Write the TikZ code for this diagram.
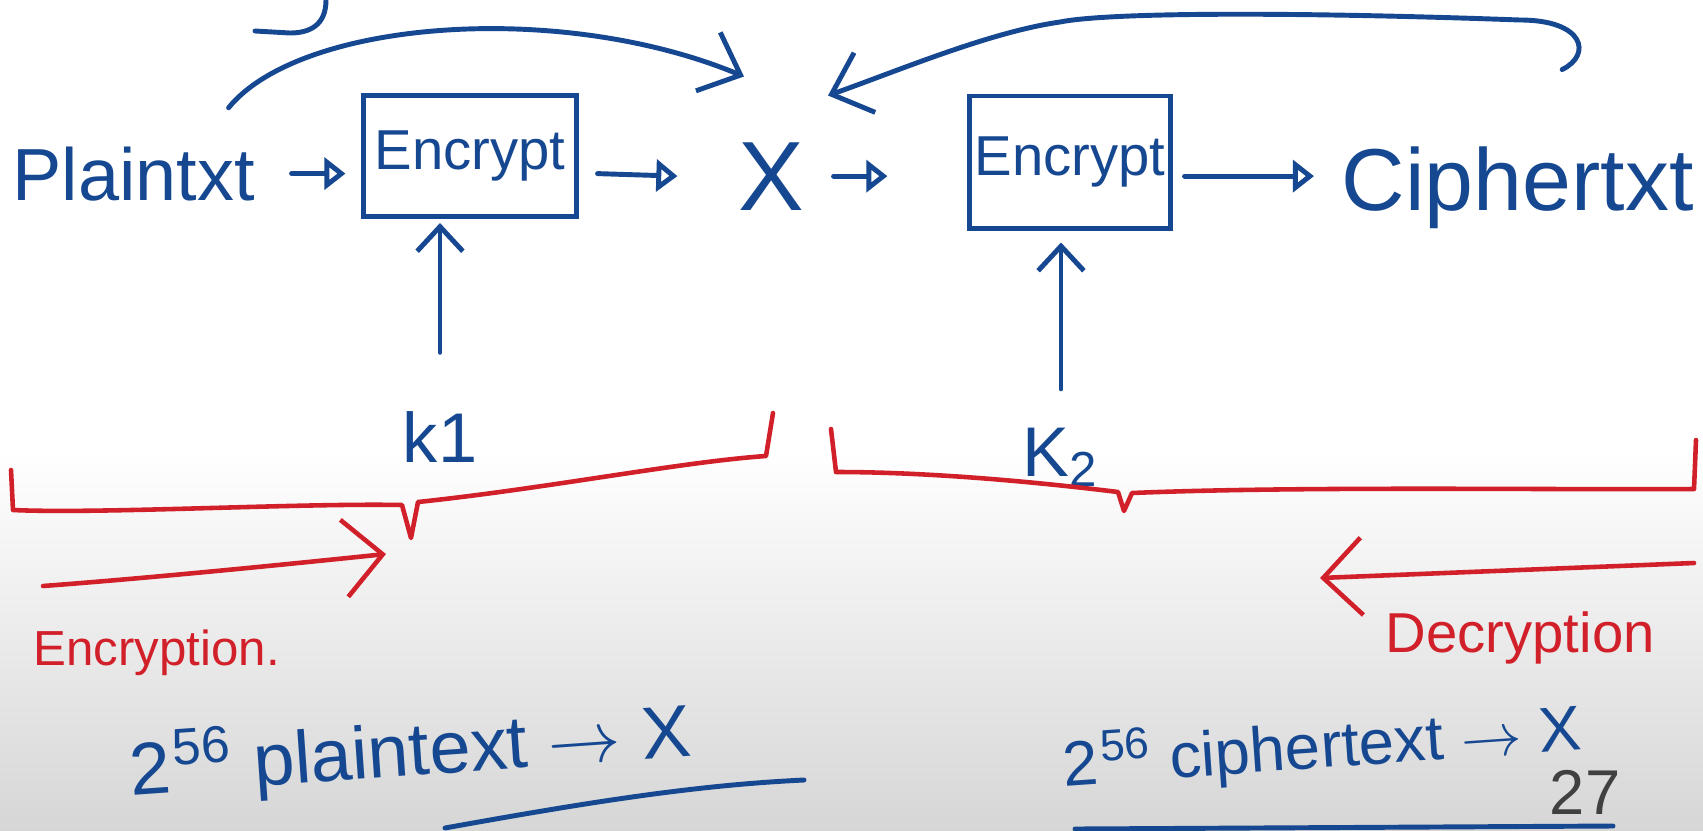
\documentclass[tikz,border=0pt]{standalone}
\usepackage{fontspec}
\setmainfont{Liberation Sans}
\usetikzlibrary{arrows.meta}
\definecolor{ink}{RGB}{22,72,145}
\definecolor{redink}{RGB}{210,32,42}
\begin{document}
\begin{tikzpicture}[x=0.01cm,y=-0.01cm,
  txt/.style={inner sep=0pt, text=ink},
  rtxt/.style={inner sep=0pt, text=redink},
  box/.style={draw=ink, line width=1.4pt, inner sep=0pt, text=ink, font=\fontsize{16}{18}\selectfont},
  ln/.style={draw=ink, line width=1.4pt, line cap=round, line join=round},
  flow/.style={ln, -{Triangle[open,length=6pt,width=9pt]}},
  vee/.style={ln, -{Straight Barb[length=10pt,width=18pt]}},
  keyar/.style={ln, -{Straight Barb[length=7pt,width=13pt]}},
  redline/.style={draw=redink, line width=1.3pt, line cap=round, line join=round},
  redar/.style={redline, -{Straight Barb[length=11pt,width=22pt]}}
]
\useasboundingbox (0,0) rectangle (1703,830);
\fill[white] (0,0) rectangle (1703,450);
\shade[top color=white, bottom color=black!16] (0,450) rectangle (1703,830);

% top-left fragment
\draw[ln] (326,0) .. controls (326,25) and (310,33) .. (290,33) -- (255,31);

% main row
\node[txt, anchor=base west, font=\fontsize{21}{24}\selectfont] (pl) at (12,200) {Plaintxt};
\node[box, minimum width=2.12cm, minimum height=1.21cm] (enc1) at (470,156) {Encrypt};
\node[txt, anchor=base, font=\fontsize{28}{30}\selectfont] (X) at (771,210) {X};
\node[box, minimum width=2.0cm, minimum height=1.32cm] (enc2) at (1070,162) {Encrypt};
\node[txt, anchor=base west, font=\fontsize{25}{30}\selectfont] (ct) at (1341,210) {Ciphertxt};
\node[txt, anchor=base, font=\fontsize{20}{24}\selectfont] (k1) at (440,462) {k1};
\node[txt, anchor=base, font=\fontsize{20}{24}\selectfont] (k2) at (1061,476) {K\textsubscript{2}};

\draw[flow] ([xshift=0.36cm]pl.east) -- ([xshift=-0.16cm]pl.east -| enc1.west);
\draw[flow] ([xshift=0.19cm]enc1.east |- pl.east) -- ([xshift=-0.6cm]X.west);
\draw[flow] ([xshift=0.29cm]X.east) -- ([xshift=-0.8cm]X.east -| enc2.west);
\draw[flow] ([xshift=0.12cm]enc2.east |- X.east) -- ([xshift=-0.27cm]ct.west |- X.east);

\draw[keyar] ([yshift=0.58cm]k1.north) -- ([yshift=-0.04cm]k1.north |- enc1.south);
\draw[keyar] ([yshift=0.38cm]k2.north) -- ([yshift=-0.12cm]k2.north |- enc2.south);

% curved arrows to X
\draw[vee] ([xshift=-0.27cm,yshift=0.38cm]pl.north east) .. controls (300,20) and (560,0) .. ([xshift=-0.27cm,yshift=0.65cm]X.north);
\draw[vee] ([xshift=2.21cm,yshift=0.76cm]ct.north west) .. controls (1592,55) and (1585,20) .. (1520,20)
  .. controls (1300,12) and (1110,12) .. (1060,22)
  .. controls (990,32) and (900,70) .. ([xshift=0.57cm,yshift=0.46cm]X.north);

% red braces
\draw[redline] (11,470) -- (13,510) .. controls (100,514) and (300,503) .. (402,505) -- (411,538) -- (418,502)
  .. controls (550,488) and (680,462) .. (766,456) -- (773,413);
\draw[redline] (831,429) -- (836,472) .. controls (920,472) and (1020,480) .. (1118,492) -- (1124,511) -- (1132,493)
  .. controls (1300,486) and (1550,490) .. (1694,489) -- (1696,440);

% red arrows and labels
\draw[redar] (43,586) .. controls (150,578) and (280,565) .. (386,554);
\draw[redar] (1694,563) -- (1320,578);
\node[rtxt, anchor=base west, font=\fontsize{14}{16}\selectfont] (encl) at (33,665) {Encryption.};
\node[rtxt, anchor=base west, font=\fontsize{16}{18}\selectfont] (decl) at (1385,652) {Decryption};

% bottom notes
\node[txt, rotate=4, font=\fontsize{21}{25}\selectfont] (bl) at (410,752) {2\kern1pt\textsuperscript{56} plaintext $\to$ X};
\node[txt, rotate=4, font=\fontsize{18}{22}\selectfont] (br) at (1322,748) {2\kern1pt\textsuperscript{56} ciphertext $\to$ X};
\draw[ln] (445,828) .. controls (600,800) and (700,785) .. (804,780);
\draw[ln] (1075,829) -- (1613,826);

\node[inner sep=0pt, anchor=base, text=black!75, font=\fontsize{18}{21}\selectfont] (pg) at (1585,814) {27};
\end{tikzpicture}
\end{document}
